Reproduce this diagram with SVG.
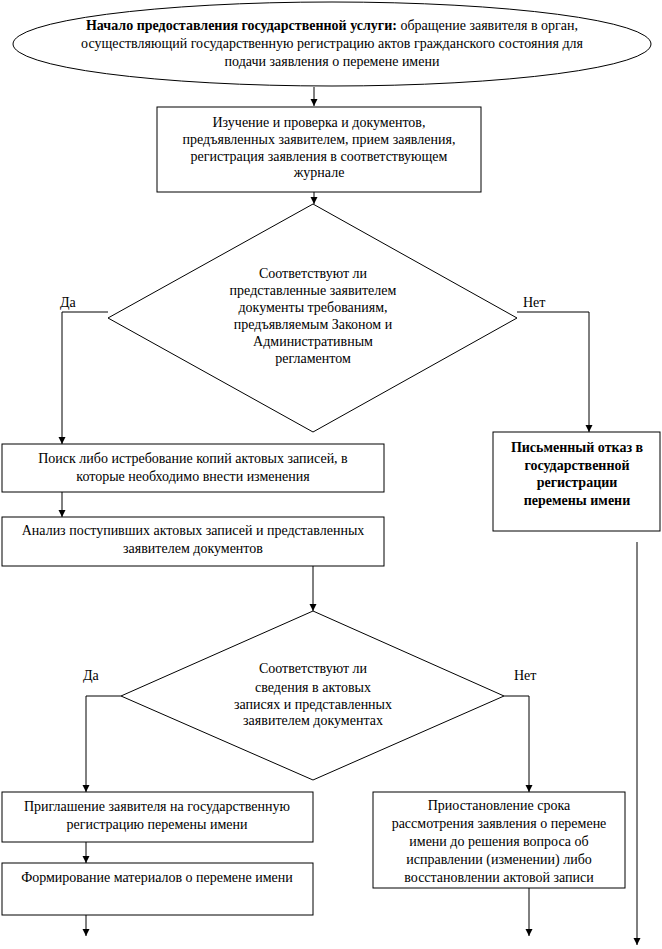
<svg xmlns="http://www.w3.org/2000/svg" width="662" height="949" viewBox="0 0 662 949">
<defs>
<marker id="ah" markerWidth="8" markerHeight="8" refX="7" refY="4" orient="auto" markerUnits="userSpaceOnUse">
<path d="M0,0.5 L7,4 L0,7.5 Z" fill="#000"/>
</marker>
<style>
.s{fill:#fff;stroke:#000;stroke-width:1}
.c{fill:none;stroke:#000;stroke-width:1}
.a{marker-end:url(#ah)}
text{font-family:"Liberation Serif","Times New Roman",serif;font-size:14px;fill:#000}
.m{text-anchor:middle}
.b{font-weight:bold}
</style>
</defs>
<rect width="662" height="949" fill="#fff"/>
<g id="connectors">
<line class="c a" x1="314" y1="87" x2="314" y2="106"/>
<line class="c a" x1="314" y1="192" x2="314" y2="204"/>
<polyline class="c a" points="108,312 62,312 62,444"/>
<polyline class="c a" points="517,312 589,312 589,432"/>
<line class="c a" x1="62" y1="492" x2="62" y2="517"/>
<line class="c a" x1="313" y1="566" x2="313" y2="611"/>
<polyline class="c a" points="121,696 86,696 86,792"/>
<polyline class="c a" points="504,696 529,696 529,792"/>
<line class="c a" x1="86" y1="842" x2="86" y2="863"/>
<line class="c a" x1="86" y1="915" x2="86" y2="936"/>
<line class="c a" x1="529" y1="888" x2="529" y2="936"/>
<line class="c a" x1="637" y1="542" x2="637" y2="945"/>
<text x="60" y="307">Да</text>
<text x="523" y="307">Нет</text>
<text x="83" y="680">Да</text>
<text x="514" y="680">Нет</text>
</g>
<g id="start">
<ellipse class="s" cx="332" cy="44" rx="319" ry="42"/>
<text class="m" x="332" y="30"><tspan class="b">Начало предоставления государственной услуги:</tspan> обращение заявителя в орган,</text>
<text class="m" x="332" y="48">осуществляющий государственную регистрацию актов гражданского состояния  для</text>
<text class="m" x="332" y="66">подачи заявления о перемене имени</text>
</g>
<g id="study">
<rect class="s" x="157" y="107" width="324" height="85"/>
<text class="m" x="319" y="127">Изучение и проверка и документов,</text>
<text class="m" x="319" y="144">предъявленных заявителем, прием заявления,</text>
<text class="m" x="319" y="161">регистрация заявления в соответствующем</text>
<text class="m" x="319" y="177">журнале</text>
</g>
<g id="decision1">
<polygon class="s" points="313,204 517,318 313,432 108,318"/>
<text class="m" x="313" y="278">Соответствуют ли</text>
<text class="m" x="313" y="295">представленные заявителем</text>
<text class="m" x="313" y="312">документы требованиям,</text>
<text class="m" x="313" y="329">предъявляемым Законом и</text>
<text class="m" x="313" y="346">Административным</text>
<text class="m" x="313" y="363">регламентом</text>
</g>
<g id="search">
<rect class="s" x="2" y="444" width="382" height="48"/>
<text class="m" x="193" y="463">Поиск либо истребование копий актовых записей, в</text>
<text class="m" x="193" y="481">которые необходимо внести изменения</text>
</g>
<g id="refusal">
<rect class="s" x="493" y="432" width="167" height="99"/>
<text class="m b" x="577" y="452">Письменный отказ в</text>
<text class="m b" x="577" y="470">государственной</text>
<text class="m b" x="577" y="487">регистрации</text>
<text class="m b" x="577" y="505">перемены имени</text>
</g>
<g id="analysis">
<rect class="s" x="2" y="517" width="382" height="49"/>
<text class="m" x="193" y="535">Анализ поступивших актовых записей и представленных</text>
<text class="m" x="193" y="553">заявителем документов</text>
</g>
<g id="decision2">
<polygon class="s" points="313,611 504,696 313,780 121,696"/>
<text class="m" x="313" y="673">Соответствуют ли</text>
<text class="m" x="313" y="692">сведения в актовых</text>
<text class="m" x="313" y="709">записях и представленных</text>
<text class="m" x="313" y="725">заявителем документах</text>
</g>
<g id="invite">
<rect class="s" x="2" y="792" width="311" height="50"/>
<text class="m" x="157" y="811">Приглашение заявителя на государственную</text>
<text class="m" x="157" y="829">регистрацию перемены имени</text>
</g>
<g id="forming">
<rect class="s" x="2" y="863" width="311" height="52"/>
<text class="m" x="157" y="882">Формирование материалов о перемене имени</text>
</g>
<g id="suspend">
<rect class="s" x="373" y="792" width="252" height="96"/>
<text class="m" x="499" y="810">Приостановление срока</text>
<text class="m" x="499" y="828">рассмотрения заявления о перемене</text>
<text class="m" x="499" y="846">имени до решения вопроса об</text>
<text class="m" x="499" y="864">исправлении (изменении) либо</text>
<text class="m" x="499" y="882">восстановлении актовой записи</text>
</g>
</svg>
